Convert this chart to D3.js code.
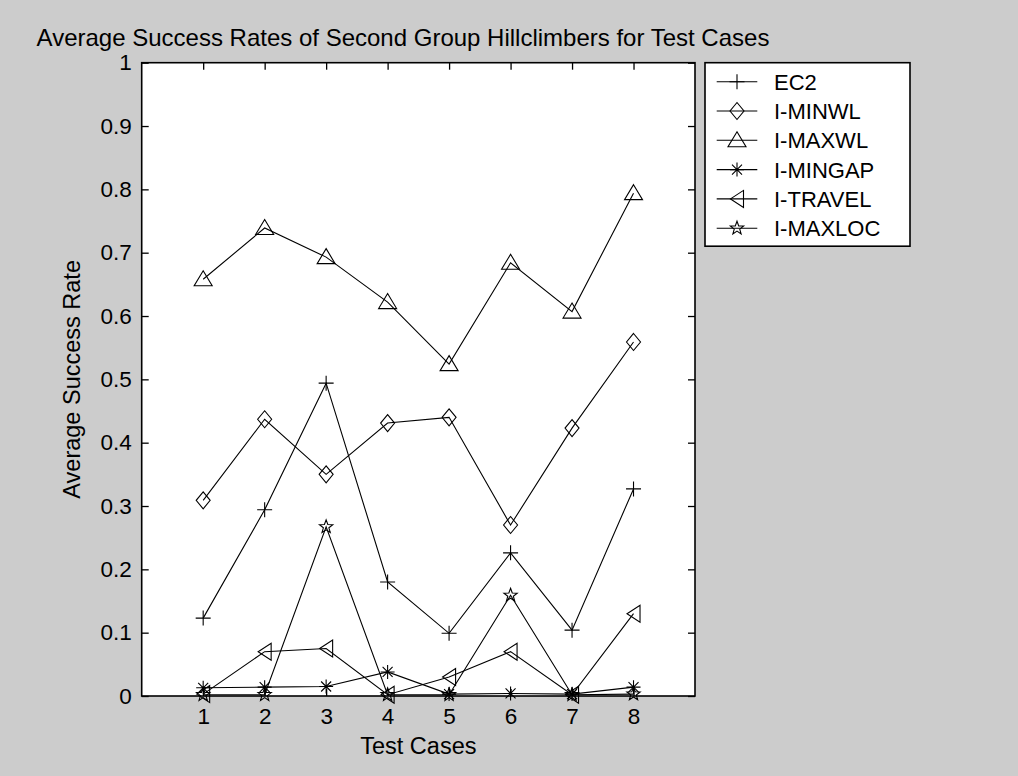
<!DOCTYPE html>
<html>
<head>
<meta charset="utf-8">
<script src="https://cdn.jsdelivr.net/npm/d3@7"></script>
<style>
  html, body { margin: 0; padding: 0; background: #cccccc; }
  svg { display: block; }
  text { font-family: "Liberation Sans", Arial, Helvetica, sans-serif; fill: #000; }
</style>
</head>
<body>
<svg id="chart" width="1018" height="776"></svg>
<script>
// Test cases on the x axis
const testCases = [1, 2, 3, 4, 5, 6, 7, 8];

// Average success rate per hillclimber
const ec2     = [0.123, 0.294, 0.494, 0.180, 0.099, 0.226, 0.104, 0.327];
const iMinwl  = [0.309, 0.437, 0.350, 0.431, 0.440, 0.270, 0.423, 0.559];
const iMaxwl  = [0.658, 0.739, 0.693, 0.622, 0.524, 0.684, 0.607, 0.794];
const iMingap = [0.013, 0.014, 0.015, 0.038, 0.003, 0.004, 0.003, 0.014];
const iTravel = [0.003, 0.070, 0.075, 0.002, 0.030, 0.070, 0.002, 0.130];
const iMaxloc = [0.002, 0.002, 0.267, 0.002, 0.002, 0.159, 0.002, 0.003];

const seriesNames = ["EC2", "I-MINWL", "I-MAXWL", "I-MINGAP", "I-TRAVEL", "I-MAXLOC"];
const seriesValues = [ec2, iMinwl, iMaxwl, iMingap, iTravel, iMaxloc];
const seriesMarkers = ["plus", "diamond", "triangleUp", "asterisk", "triangleLeft", "pentagram"];

const xTicks = [1, 2, 3, 4, 5, 6, 7, 8];
const yTicks = [0, 0.1, 0.2, 0.3, 0.4, 0.5, 0.6, 0.7, 0.8, 0.9, 1];

const titleText = "Average Success Rates of Second Group Hillclimbers for Test Cases";
const xLabel = "Test Cases";
const yLabel = "Average Success Rate";

// Layout of the axes box
const plot = { left: 141.7, right: 695, top: 62.7, bottom: 696 };
const svg = d3.select("#chart");

const x = d3.scaleLinear().domain([0, 9]).range([plot.left, plot.right]);
const y = d3.scaleLinear().domain([0, 1]).range([plot.bottom, plot.top]);

// Marker outlines, centred on the origin
function markerPath(kind) {
  const p = d3.path();
  if (kind === "plus") {
    p.moveTo(-7.5, 0); p.lineTo(7.5, 0);
    p.moveTo(0, -7.5); p.lineTo(0, 7.5);
  } else if (kind === "diamond") {
    p.moveTo(0, -8.5); p.lineTo(7, 0); p.lineTo(0, 8.5); p.lineTo(-7, 0); p.closePath();
  } else if (kind === "triangleUp") {
    p.moveTo(0, -8.5); p.lineTo(9, 6.5); p.lineTo(-9, 6.5); p.closePath();
  } else if (kind === "triangleLeft") {
    p.moveTo(-6.5, 0); p.lineTo(6.5, -8.5); p.lineTo(6.5, 8.5); p.closePath();
  } else if (kind === "asterisk") {
    const r = 7, d = 5;
    p.moveTo(-r, 0); p.lineTo(r, 0);
    p.moveTo(0, -r); p.lineTo(0, r);
    p.moveTo(-d, -d); p.lineTo(d, d);
    p.moveTo(-d, d); p.lineTo(d, -d);
  } else if (kind === "pentagram") {
    const R = 7, rIn = 2.9;
    for (let i = 0; i < 10; i++) {
      const rad = i % 2 === 0 ? R : rIn;
      const a = -Math.PI / 2 + i * Math.PI / 5;
      const px = rad * Math.cos(a), py = rad * Math.sin(a);
      if (i === 0) p.moveTo(px, py); else p.lineTo(px, py);
    }
    p.closePath();
  }
  return p.toString();
}

// White axes background
svg.append("rect")
  .attr("x", plot.left).attr("y", plot.top)
  .attr("width", plot.right - plot.left).attr("height", plot.bottom - plot.top)
  .attr("fill", "#ffffff");

// Series lines and markers
const lineGen = d3.line().x((d, i) => x(testCases[i])).y(d => y(d));
const gSeries = svg.append("g");
seriesValues.forEach((vals, si) => {
  gSeries.append("path")
    .attr("d", lineGen(vals))
    .attr("fill", "none").attr("stroke", "#000").attr("stroke-width", 1.1);
  gSeries.selectAll(null)
    .data(vals).enter().append("path")
    .attr("transform", (d, i) => `translate(${x(testCases[i])},${y(d)})`)
    .attr("d", markerPath(seriesMarkers[si]))
    .attr("fill", "none").attr("stroke", "#000").attr("stroke-width", 1.1);
});

// Axes with inward ticks on all four sides
const tickLen = 7;
const axB = svg.append("g").attr("transform", `translate(0,${plot.bottom})`)
  .call(d3.axisBottom(x).tickValues(xTicks).tickSizeInner(-tickLen).tickSizeOuter(0).tickPadding(12));
const axT = svg.append("g").attr("transform", `translate(0,${plot.top})`)
  .call(d3.axisTop(x).tickValues(xTicks).tickSizeInner(-tickLen).tickSizeOuter(0).tickFormat(""));
const axL = svg.append("g").attr("transform", `translate(${plot.left},0)`)
  .call(d3.axisLeft(y).tickValues(yTicks).tickSizeInner(-tickLen).tickSizeOuter(0).tickPadding(10)
    .tickFormat(d => d === 0 ? "0" : d === 1 ? "1" : d3.format(".1f")(d)));
const axR = svg.append("g").attr("transform", `translate(${plot.right},0)`)
  .call(d3.axisRight(y).tickValues(yTicks).tickSizeInner(-tickLen).tickSizeOuter(0).tickFormat(""));

[axB, axT, axL, axR].forEach(g => {
  g.select(".domain").remove();
  g.selectAll(".tick line").attr("stroke", "#000").attr("stroke-width", 1.3);
  g.selectAll(".tick text").attr("font-size", 22.5).attr("font-family", "Liberation Sans, Arial, sans-serif").attr("fill", "#000");
});

// Axes box frame
svg.append("rect")
  .attr("x", plot.left).attr("y", plot.top)
  .attr("width", plot.right - plot.left).attr("height", plot.bottom - plot.top)
  .attr("fill", "none").attr("stroke", "#000").attr("stroke-width", 1.6);

// Title and axis labels
svg.append("text")
  .attr("x", 403).attr("y", 46)
  .attr("text-anchor", "middle").attr("font-size", 24)
  .text(titleText);
svg.append("text")
  .attr("x", (plot.left + plot.right) / 2).attr("y", 754)
  .attr("text-anchor", "middle").attr("font-size", 23.5)
  .text(xLabel);
svg.append("text")
  .attr("transform", `translate(79.5,${(plot.top + plot.bottom) / 2}) rotate(-90)`)
  .attr("text-anchor", "middle").attr("font-size", 23.5)
  .text(yLabel);

// Legend
const legend = { left: 705, top: 62.7, width: 205, rowH: 29.3, firstRow: 81.7 };
const legendH = legend.firstRow - legend.top + legend.rowH * (seriesNames.length - 1) + 18;
svg.append("rect")
  .attr("x", legend.left).attr("y", legend.top)
  .attr("width", legend.width).attr("height", legendH)
  .attr("fill", "#ffffff").attr("stroke", "#000").attr("stroke-width", 1.6);
const rows = svg.append("g").selectAll("g").data(seriesNames).enter().append("g")
  .attr("transform", (d, i) => `translate(0,${legend.firstRow + i * legend.rowH})`);
rows.append("line")
  .attr("x1", 716.7).attr("x2", 757.3).attr("y1", 0).attr("y2", 0)
  .attr("stroke", "#000").attr("stroke-width", 1.1);
rows.append("path")
  .attr("transform", "translate(737,0)")
  .attr("d", (d, i) => markerPath(seriesMarkers[i]))
  .attr("fill", "none").attr("stroke", "#000").attr("stroke-width", 1.1);
rows.append("text")
  .attr("x", 774).attr("y", 0).attr("dy", "0.36em")
  .attr("font-size", 22)
  .text(d => d);
</script>
</body>
</html>
